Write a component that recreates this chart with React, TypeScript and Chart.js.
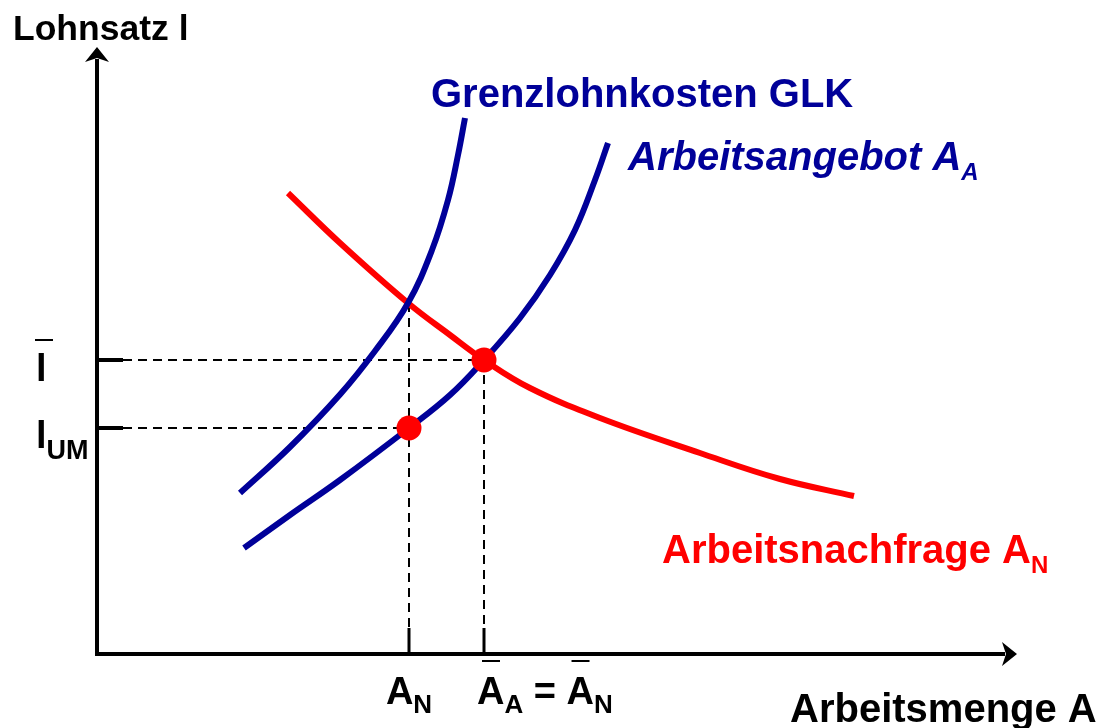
import React, { useEffect, useRef } from "react";
import { Chart, registerables } from "chart.js";

Chart.register(...registerables);

// Curve data (arbitrary units: Arbeitsmenge A on x, Lohnsatz l on y)
const glkX = [14.3, 19.3, 24.3, 27.8, 31.1, 33.5, 35.1, 36.1, 36.8];
const glkY = [16.1, 20.7, 25.95, 30.3, 35.1, 40.4, 45.4, 49.9, 53.6];

const supplyX = [14.7, 19.3, 24.3, 31.2, 35.3, 38.7, 42.3, 45.3, 47.8, 49.8, 51.1];
const supplyY = [10.6, 13.9, 17.4, 22.6, 25.9, 29.4, 33.6, 37.9, 42.4, 47.4, 51.1];

const demandX = [19.1, 24.3, 31.1, 35.3, 38.7, 43.3, 50.3, 60.3, 68.3, 75.7];
const demandY = [46.1, 41.1, 35.1, 31.9, 29.4, 26.6, 23.6, 20.1, 17.5, 15.8];

// Key points
const aN = 31.2; // A_N (monopsony employment)
const aBar = 38.7; // A_A = A_N (competitive equilibrium)
const lBar = 29.4; // competitive wage
const lUM = 22.6; // monopsony wage
const glkCross = 35.1; // GLK meets demand at A_N
const tickLen = 2.6;

const X_MAX = 92;
const Y_MAX = 60.7;

const BLUE = "#000099";
const RED = "#ff0000";
const FONT = "'Liberation Sans', Arial, sans-serif";

const pts = (xs: number[], ys: number[]) => xs.map((x, i) => ({ x, y: ys[i] }));

type Part = { t: string; size: number; dy?: number; italic?: boolean };

function drawRich(ctx: CanvasRenderingContext2D, parts: Part[], x: number, y: number, color: string) {
  ctx.fillStyle = color;
  ctx.textBaseline = "alphabetic";
  ctx.textAlign = "left";
  let cx = x;
  const pos: number[] = [];
  for (const p of parts) {
    ctx.font = `${p.italic ? "italic " : ""}bold ${p.size}px ${FONT}`;
    pos.push(cx);
    ctx.fillText(p.t, cx, y + (p.dy || 0));
    cx += ctx.measureText(p.t).width;
  }
  return { end: cx, pos };
}

function richWidth(ctx: CanvasRenderingContext2D, parts: Part[]) {
  let w = 0;
  for (const p of parts) {
    ctx.font = `${p.italic ? "italic " : ""}bold ${p.size}px ${FONT}`;
    w += ctx.measureText(p.t).width;
  }
  return w;
}

function bar(ctx: CanvasRenderingContext2D, x1: number, x2: number, y: number) {
  ctx.save();
  ctx.strokeStyle = "#000";
  ctx.lineWidth = 2;
  ctx.beginPath();
  ctx.moveTo(x1, y);
  ctx.lineTo(x2, y);
  ctx.stroke();
  ctx.restore();
}

const diagramPlugin = {
  id: "diagram",
  beforeDatasetsDraw(chart: any) {
    const { ctx, chartArea: a } = chart;
    ctx.save();
    ctx.strokeStyle = "#000";
    ctx.fillStyle = "#000";
    ctx.lineWidth = 4;
    ctx.lineCap = "butt";
    // y axis
    ctx.beginPath();
    ctx.moveTo(a.left, a.bottom + 2);
    ctx.lineTo(a.left, a.top + 12);
    ctx.stroke();
    ctx.beginPath();
    ctx.moveTo(a.left, a.top);
    ctx.lineTo(a.left - 12, a.top + 15);
    ctx.lineTo(a.left, a.top + 11);
    ctx.lineTo(a.left + 12, a.top + 15);
    ctx.closePath();
    ctx.fill();
    // x axis
    ctx.beginPath();
    ctx.moveTo(a.left - 2, a.bottom);
    ctx.lineTo(a.right - 12, a.bottom);
    ctx.stroke();
    ctx.beginPath();
    ctx.moveTo(a.right, a.bottom);
    ctx.lineTo(a.right - 15, a.bottom - 12);
    ctx.lineTo(a.right - 11, a.bottom);
    ctx.lineTo(a.right - 15, a.bottom + 12);
    ctx.closePath();
    ctx.fill();
    ctx.restore();
  },
  afterDatasetsDraw(chart: any) {
    const { ctx, chartArea: a, scales } = chart;
    const xs = scales.x;
    const ys = scales.y;
    ctx.save();

    // Axis titles
    drawRich(ctx, [{ t: "Lohnsatz l", size: 35.5 }], 13, 40, "#000");
    drawRich(ctx, [{ t: "Arbeitsmenge A", size: 40 }], 790, 722, "#000");

    // Curve labels
    drawRich(ctx, [{ t: "Grenzlohnkosten GLK", size: 40 }], 431, 107, BLUE);
    drawRich(
      ctx,
      [
        { t: "Arbeitsangebot A", size: 40, italic: true },
        { t: "A", size: 24, dy: 10, italic: true },
      ],
      628,
      170,
      BLUE
    );
    drawRich(
      ctx,
      [
        { t: "Arbeitsnachfrage A", size: 40 },
        { t: "N", size: 24, dy: 10 },
      ],
      662,
      563,
      RED
    );

    // y tick labels
    const yb = ys.getPixelForValue(lBar);
    drawRich(ctx, [{ t: "l", size: 38 }], 36, yb + 21, "#000");
    bar(ctx, 35, 53, yb - 20);
    const yu = ys.getPixelForValue(lUM);
    drawRich(
      ctx,
      [
        { t: "l", size: 38 },
        { t: "UM", size: 27, dy: 11 },
      ],
      36,
      yu + 20,
      "#000"
    );

    // x tick labels
    const xbase = a.bottom + 50;
    const partsN: Part[] = [
      { t: "A", size: 38 },
      { t: "N", size: 26, dy: 9 },
    ];
    const xn = xs.getPixelForValue(aN);
    drawRich(ctx, partsN, xn - richWidth(ctx, partsN) / 2, xbase, "#000");

    const xe = xs.getPixelForValue(aBar);
    const partsE: Part[] = [
      { t: "A", size: 38 },
      { t: "A", size: 26, dy: 9 },
      { t: " = ", size: 38 },
      { t: "A", size: 38 },
      { t: "N", size: 26, dy: 9 },
    ];
    const re = drawRich(ctx, partsE, xe - 7, xbase, "#000");
    bar(ctx, re.pos[0] + 5, re.pos[0] + 23, a.bottom + 7);
    bar(ctx, re.pos[3] + 5, re.pos[3] + 23, a.bottom + 7);

    ctx.restore();
  },
};

export default function App() {
  const ref = useRef<HTMLCanvasElement | null>(null);

  useEffect(() => {
    if (!ref.current) return;
    const dashed = {
      borderColor: "#000",
      borderWidth: 2,
      borderDash: [9, 6],
      pointRadius: 0,
      tension: 0,
      fill: false,
      clip: false as any,
      order: 5,
    };
    const tick = (w: number) => ({
      borderColor: "#000",
      borderWidth: w,
      pointRadius: 0,
      tension: 0,
      fill: false,
      clip: false as any,
      order: 5,
    });
    const curve = (label: string, data: any[], color: string, order: number) => ({
      label,
      data,
      borderColor: color,
      borderWidth: 6,
      pointRadius: 0,
      tension: 0.4,
      fill: false,
      clip: false as any,
      order,
    });
    const chart = new Chart(ref.current, {
      type: "line",
      data: {
        datasets: [
          // guide lines
          { ...dashed, data: [{ x: tickLen, y: lBar }, { x: aBar, y: lBar }] },
          { ...dashed, data: [{ x: tickLen, y: lUM }, { x: aN, y: lUM }] },
          { ...dashed, data: [{ x: aN, y: glkCross }, { x: aN, y: tickLen }] },
          { ...dashed, data: [{ x: aBar, y: lBar }, { x: aBar, y: tickLen }] },
          // axis tick marks
          { ...tick(4), data: [{ x: 0, y: lBar }, { x: tickLen, y: lBar }] },
          { ...tick(4), data: [{ x: 0, y: lUM }, { x: tickLen, y: lUM }] },
          { ...tick(3), data: [{ x: aN, y: 0 }, { x: aN, y: tickLen }] },
          { ...tick(3), data: [{ x: aBar, y: 0 }, { x: aBar, y: tickLen }] },
          // curves
          curve("Arbeitsnachfrage", pts(demandX, demandY), RED, 3),
          curve("Grenzlohnkosten GLK", pts(glkX, glkY), BLUE, 2),
          curve("Arbeitsangebot", pts(supplyX, supplyY), BLUE, 2),
          {
            type: "scatter" as any,
            label: "points",
            data: [
              { x: aN, y: lUM },
              { x: aBar, y: lBar },
            ],
            backgroundColor: RED,
            borderColor: RED,
            borderWidth: 0,
            pointRadius: 12.5,
            showLine: false,
            clip: false as any,
            order: 0,
          },
        ],
      },
      options: {
        animation: false,
        responsive: false,
        maintainAspectRatio: false,
        layout: { padding: { left: 97, right: 84, top: 47, bottom: 74 } },
        plugins: { legend: { display: false }, tooltip: { enabled: false } },
        events: [],
        scales: {
          x: { type: "linear", min: 0, max: X_MAX, display: false },
          y: { type: "linear", min: 0, max: Y_MAX, display: false },
        },
      },
      plugins: [diagramPlugin],
    });
    return () => chart.destroy();
  }, []);

  return (
    <div style={{ position: "absolute", left: 0, top: 0, width: 1101, height: 728, background: "#fff" }}>
      <canvas ref={ref} width={1101} height={728} style={{ width: 1101, height: 728, display: "block" }} />
    </div>
  );
}
